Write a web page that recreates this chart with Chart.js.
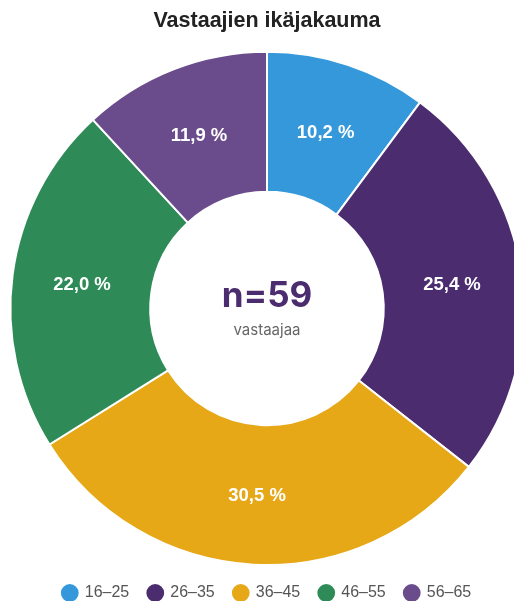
<!DOCTYPE html>
<html lang="fi">
<head>
<meta charset="utf-8">
<title>Vastaajien ikäjakauma</title>
<script src="https://cdn.jsdelivr.net/npm/chart.js@4/dist/chart.umd.min.js"></script>
<style>
  html, body { margin:0; padding:0; background:#fff; overflow:hidden; }
  .wrap { position:relative; width:534px; height:611px; }
</style>
</head>
<body>
<div class="wrap"><canvas id="ageChart"></canvas></div>
<script>
const AGE_GROUPS = ['16–25','26–35','36–45','46–55','56–65'];
const RESPONDENTS = [6, 15, 18, 13, 7];
const SLICE_COLORS = ['#3498db','#4a2c6f','#e6a817','#2e8b57','#6a4c8c'];
const TITLE = 'Vastaajien ikäjakauma';
const CENTER_LABEL = 'vastaajaa';

const total = RESPONDENTS.reduce((a, b) => a + b, 0);
const pct = v => (v / total * 100).toFixed(1).replace('.', ',') + ' %';

/* percent labels on slices */
const sliceLabels = {
  id:'sliceLabels',
  afterDatasetsDraw(chart) {
    const ctx = chart.ctx;
    const meta = chart.getDatasetMeta(0);
    ctx.save();
    ctx.fillStyle = '#fff';
    ctx.font = 'bold 18.5px "Liberation Sans", Arial, sans-serif';
    ctx.textAlign = 'center';
    ctx.textBaseline = 'middle';
    meta.data.forEach((arc, i) => {
      const p = arc.tooltipPosition();
      ctx.fillText(pct(RESPONDENTS[i]), p.x, p.y + 1.5);
    });
    ctx.restore();
  }
};

/* n=.. in the hole */
const centerText = {
  id:'centerText',
  afterDraw(chart) {
    const ctx = chart.ctx;
    const arc = chart.getDatasetMeta(0).data[0];
    if (!arc) return;
    const cx = arc.x, cy = arc.y;
    ctx.save();
    ctx.textAlign = 'center';
    ctx.textBaseline = 'middle';
    ctx.fillStyle = '#4a2c6f';
    ctx.font = 'bold 35px Inter, "Noto Sans", sans-serif';
    ctx.fillText('n=' + total, cx, cy - 12);
    ctx.fillStyle = '#666';
    ctx.font = '15px Inter, "Noto Sans", sans-serif';
    ctx.fillText(CENTER_LABEL, cx, cy + 22);
    ctx.restore();
  }
};

new Chart(document.getElementById('ageChart'), {
  type:'doughnut',
  data:{
    labels:AGE_GROUPS,
    datasets:[{
      data:RESPONDENTS,
      backgroundColor:SLICE_COLORS,
      borderColor:'#fff',
      borderWidth:2,
      hoverOffset:0
    }]
  },
  options:{
    responsive:true,
    maintainAspectRatio:false,
    animation:false,
    cutout:'45.5%',
    plugins:{
      title:{
        display:true,
        text:TITLE,
        color:'#222',
        font:{ family:'"Liberation Sans", Arial, sans-serif', size:21.5, weight:'bold' },
        padding:{ top:8, bottom:17 }
      },
      legend:{
        position:'bottom',
        labels:{
          usePointStyle:true,
          pointStyle:'circle',
          boxWidth:14,
          boxHeight:14,
          padding:19,
          color:'#555',
          font:{ family:'"Liberation Sans", Arial, sans-serif', size:16 }
        }
      },
      tooltip:{ enabled:false }
    }
  },
  plugins:[sliceLabels, centerText]
});
</script>
</body>
</html>
